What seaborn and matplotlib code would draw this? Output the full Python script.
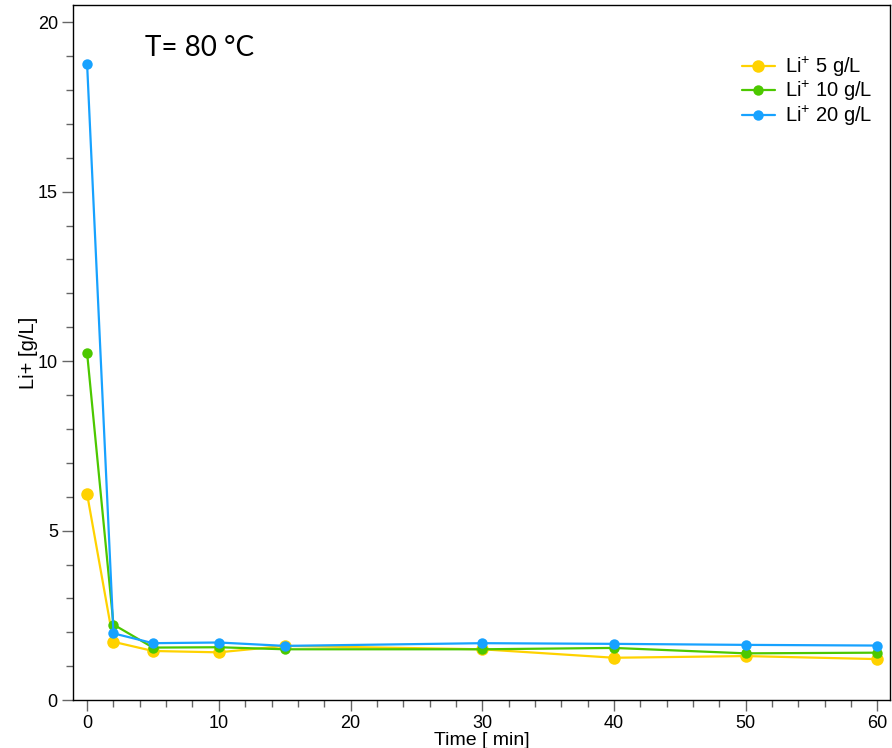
import numpy as np
import pandas as pd
import matplotlib
matplotlib.use('Agg')
import matplotlib.pyplot as plt
import seaborn as sns
from matplotlib.ticker import MultipleLocator

time_min = [0, 2, 5, 10, 15, 30, 40, 50, 60]
li_5 = [6.08, 1.72, 1.45, 1.41, 1.60, 1.50, 1.25, 1.30, 1.21]
li_10 = [10.24, 2.23, 1.55, 1.56, 1.50, 1.50, 1.54, 1.38, 1.40]
li_20 = [18.76, 1.97, 1.68, 1.70, 1.60, 1.68, 1.66, 1.63, 1.61]
labels = ['Li$^{+}$ 5 g/L', 'Li$^{+}$ 10 g/L', 'Li$^{+}$ 20 g/L']
colors = ['#FFD200', '#4CC800', '#17A2FF']
marker_sizes = [9, 7.5, 7.5]

sns.set_style('ticks')
plt.rcParams['font.family'] = ['Liberation Sans', 'DejaVu Sans']
plt.rcParams['mathtext.fontset'] = 'custom'
plt.rcParams['mathtext.rm'] = 'Liberation Sans'
plt.rcParams['mathtext.it'] = 'Liberation Sans:italic'
plt.rcParams['text.color'] = 'black'
plt.rcParams['axes.labelcolor'] = 'black'
plt.rcParams['xtick.labelcolor'] = 'black'
plt.rcParams['ytick.labelcolor'] = 'black'

fig = plt.figure(figsize=(8.92, 7.48), dpi=100)
ax = fig.add_axes([0.082, 0.064, 0.916, 0.929])

for vals, lab, col, ms in zip([li_5, li_10, li_20], labels, colors, marker_sizes):
    df = pd.DataFrame({'time': time_min, 'li': vals})
    sns.lineplot(data=df, x='time', y='li', ax=ax, color=col, marker='o',
                 markersize=ms, markeredgewidth=0, linewidth=1.6, label=lab)

ax.set_xlim(-1.06, 60.97)
ax.set_ylim(0, 20.5)
ax.xaxis.set_major_locator(MultipleLocator(10))
ax.xaxis.set_minor_locator(MultipleLocator(2))
ax.yaxis.set_major_locator(MultipleLocator(5))
ax.yaxis.set_minor_locator(MultipleLocator(1))
ax.tick_params(which='major', length=8, width=1, color='#666666', labelsize=13, pad=3)
ax.tick_params(which='minor', length=5, width=1, color='#666666')
for s in ax.spines.values():
    s.set_color('black')
    s.set_linewidth(1)

ax.set_xlabel('Time [ min]', fontsize=14, labelpad=0)
ax.set_ylabel('Li+ [g/L]', fontsize=14.5, labelpad=0)

ax.text(0.088, 0.938, 'T= 80 °C', transform=ax.transAxes, fontsize=20,
        family=['Lato', 'DejaVu Sans'], va='center', ha='left')

leg = ax.legend(loc='upper right', frameon=False, fontsize=14.5,
                bbox_to_anchor=(1.0, 0.955), handlelength=1.6,
                labelspacing=0.02, handletextpad=0.5)

fig.savefig('out.png', dpi=100)
